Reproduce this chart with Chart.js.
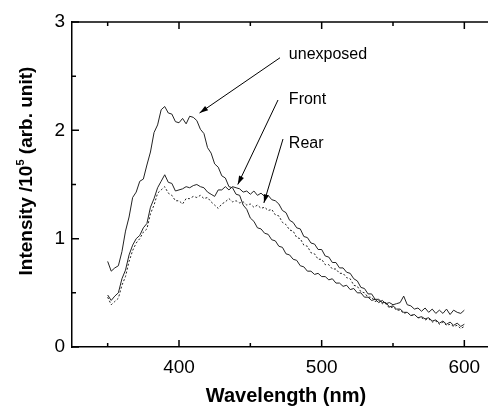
<!DOCTYPE html>
<html>
<head>
<meta charset="utf-8">
<script src="https://cdn.jsdelivr.net/npm/chart.js@4.4.1/dist/chart.umd.min.js"></script>
<style>
  html, body { margin: 0; padding: 0; overflow: hidden; background: #fff; }
  #wrap { width: 500px; height: 408px; }
</style>
</head>
<body>
<div id="wrap"><canvas id="chart"></canvas></div>
<script>
const wavelengths = [350,352.5,355,357.5,360,362.5,365,367.5,370,372.5,375,377.5,380,382.5,385,387.5,390,392.5,395,397.5,400,402.5,405,407.5,410,412.5,415,417.5,420,422.5,425,427.5,430,432.5,435,437.5,440,442.5,445,447.5,450,452.5,455,457.5,460,462.5,465,467.5,470,472.5,475,477.5,480,482.5,485,487.5,490,492.5,495,497.5,500,502.5,505,507.5,510,512.5,515,517.5,520,522.5,525,527.5,530,532.5,535,537.5,540,542.5,545,547.5,550,552.5,555,557.5,560,562.5,565,567.5,570,572.5,575,577.5,580,582.5,585,587.5,590,592.5,595,597.5,600];

const unexposed = [
  0.79,0.70,0.73,0.75,0.88,1.07,1.20,1.38,1.43,1.53,
  1.55,1.68,1.80,1.98,2.05,2.19,2.22,2.16,2.15,2.08,
  2.07,2.11,2.06,2.13,2.12,2.09,2.01,1.97,1.84,1.79,
  1.69,1.66,1.58,1.56,1.48,1.47,1.41,1.40,1.31,1.27,
  1.19,1.16,1.10,1.09,1.05,1.04,0.99,0.98,0.93,0.92,
  0.86,0.85,0.81,0.80,0.75,0.74,0.70,0.70,0.67,0.68,
  0.65,0.65,0.62,0.63,0.59,0.59,0.56,0.57,0.53,0.54,
  0.50,0.50,0.46,0.46,0.43,0.44,0.41,0.43,0.40,0.41,
  0.39,0.40,0.41,0.47,0.39,0.38,0.35,0.36,0.33,0.36,
  0.32,0.35,0.31,0.34,0.31,0.35,0.30,0.34,0.32,0.31,
  0.34];

const front = [
  0.48,0.43,0.47,0.50,0.63,0.71,0.85,0.94,1.00,1.03,
  1.10,1.14,1.29,1.37,1.47,1.53,1.59,1.52,1.51,1.44,
  1.45,1.46,1.48,1.47,1.49,1.50,1.48,1.47,1.43,1.41,
  1.39,1.45,1.45,1.48,1.45,1.48,1.47,1.46,1.43,1.44,
  1.41,1.44,1.40,1.42,1.39,1.40,1.36,1.35,1.32,1.26,
  1.24,1.17,1.15,1.10,1.09,1.02,1.01,0.96,0.95,0.90,
  0.90,0.84,0.83,0.78,0.78,0.73,0.73,0.69,0.68,0.63,
  0.61,0.55,0.54,0.49,0.49,0.44,0.44,0.41,0.41,0.37,
  0.38,0.35,0.35,0.32,0.32,0.29,0.30,0.27,0.28,0.26,
  0.27,0.24,0.25,0.22,0.24,0.21,0.23,0.20,0.22,0.19,
  0.21];

const rear = [
  0.46,0.39,0.42,0.45,0.57,0.65,0.79,0.89,0.96,1.00,
  1.06,1.09,1.23,1.31,1.42,1.45,1.48,1.42,1.40,1.35,
  1.35,1.32,1.37,1.37,1.39,1.38,1.40,1.37,1.38,1.34,
  1.31,1.28,1.32,1.34,1.37,1.34,1.35,1.33,1.34,1.31,
  1.32,1.29,1.31,1.28,1.29,1.26,1.27,1.22,1.21,1.15,
  1.13,1.08,1.07,1.01,1.00,0.94,0.93,0.87,0.86,0.81,
  0.81,0.76,0.76,0.72,0.72,0.68,0.68,0.64,0.63,0.57,
  0.56,0.51,0.50,0.46,0.46,0.42,0.43,0.40,0.40,0.36,
  0.37,0.34,0.34,0.31,0.32,0.29,0.30,0.27,0.27,0.25,
  0.26,0.23,0.24,0.21,0.23,0.20,0.21,0.19,0.20,0.17,
  0.19];

// tick positions; only the majors get a label
const xTicks = [350, 400, 450, 500, 550, 600];
const xLabels = ["", "400", "", "500", "", "600"];
const yTicks = [0, 0.5, 1, 1.5, 2, 2.5, 3];
const yLabels = ["0", "", "1", "", "2", "", "3"];

// label text, then arrow tail and tip, in data units
const notes = [
  { text: "unexposed", at: [477, 2.70], from: [470.8, 2.67], to: [414.4, 2.16] },
  { text: "Front", at: [477, 2.28], from: [469.4, 2.28], to: [441.2, 1.50] },
  { text: "Rear", at: [477, 1.88], from: [472.9, 1.92], to: [459.5, 1.33] }
];

const ink = "#222";
const fontFam = "'Liberation Sans', Arial, sans-serif";
const toPoints = (ys) => ys.map((y, i) => ({ x: wavelengths[i], y: y }));

// ticks point inward on all sides, plus top frame, notes and the y title
const frame = {
  id: "frame",
  afterDraw(chart) {
    const ctx = chart.ctx;
    const a = chart.chartArea;
    const xs = chart.scales.x;
    const ys = chart.scales.y;
    ctx.save();
    ctx.strokeStyle = "#000";
    ctx.lineWidth = 1.5;
    ctx.beginPath();
    ctx.moveTo(a.left, a.top);
    ctx.lineTo(a.right, a.top);
    ctx.stroke();
    ctx.beginPath();
    xTicks.forEach((v, i) => {
      const len = xLabels[i] ? 7 : 4;
      const px = xs.getPixelForValue(v);
      ctx.moveTo(px, a.bottom);
      ctx.lineTo(px, a.bottom - len);
      ctx.moveTo(px, a.top);
      ctx.lineTo(px, a.top + len);
    });
    yTicks.forEach((v, i) => {
      const len = yLabels[i] ? 7 : 4;
      const py = ys.getPixelForValue(v);
      ctx.moveTo(a.left, py);
      ctx.lineTo(a.left + len, py);
    });
    ctx.stroke();

    // notes with arrows
    ctx.fillStyle = "#000";
    ctx.font = "16px " + fontFam;
    ctx.textBaseline = "middle";
    ctx.textAlign = "left";
    ctx.lineWidth = 1;
    notes.forEach((n) => {
      ctx.fillText(n.text, xs.getPixelForValue(n.at[0]), ys.getPixelForValue(n.at[1]));
      const x1 = xs.getPixelForValue(n.from[0]), y1 = ys.getPixelForValue(n.from[1]);
      const x2 = xs.getPixelForValue(n.to[0]), y2 = ys.getPixelForValue(n.to[1]);
      ctx.beginPath();
      ctx.moveTo(x1, y1);
      ctx.lineTo(x2, y2);
      ctx.stroke();
      const ang = Math.atan2(y2 - y1, x2 - x1);
      ctx.beginPath();
      ctx.moveTo(x2, y2);
      ctx.lineTo(x2 - 9 * Math.cos(ang - 0.3), y2 - 9 * Math.sin(ang - 0.3));
      ctx.lineTo(x2 - 9 * Math.cos(ang + 0.3), y2 - 9 * Math.sin(ang + 0.3));
      ctx.closePath();
      ctx.fill();
    });

    // y title with superscript
    ctx.translate(27, 171);
    ctx.rotate(-Math.PI / 2);
    const big = "bold 19px " + fontFam;
    const small = "bold 11px " + fontFam;
    const p1 = "Intensity /10", p3 = " (arb. unit)";
    ctx.font = big;
    const w1 = ctx.measureText(p1).width, w3 = ctx.measureText(p3).width;
    ctx.font = small;
    const w2 = ctx.measureText("5").width;
    let x = -(w1 + w2 + w3) / 2;
    ctx.font = big;
    ctx.fillText(p1, x, 0);
    ctx.font = small;
    ctx.fillText("5", x + w1, -6);
    ctx.font = big;
    ctx.fillText(p3, x + w1 + w2, 0);
    ctx.restore();
  }
};

new Chart(document.getElementById("chart"), {
  type: "scatter",
  data: {
    datasets: [
      { label: "unexposed", data: toPoints(unexposed), showLine: true, borderColor: ink, borderWidth: 1, pointRadius: 0, tension: 0 },
      { label: "Front", data: toPoints(front), showLine: true, borderColor: ink, borderWidth: 1, pointRadius: 0, tension: 0 },
      { label: "Rear", data: toPoints(rear), showLine: true, borderColor: ink, borderWidth: 1, borderDash: [2, 2], pointRadius: 0, tension: 0 }
    ]
  },
  options: {
    responsive: true,
    maintainAspectRatio: false,
    animation: false,
    layout: { padding: { top: 22, left: 0, right: 0, bottom: 0 } },
    plugins: { legend: { display: false }, tooltip: { enabled: false } },
    scales: {
      x: {
        type: "linear",
        min: 325,
        max: 625,
        grid: { display: false, drawTicks: false },
        border: { display: true, color: "#000", width: 1.5 },
        afterBuildTicks: (s) => { s.ticks = xTicks.map((v) => ({ value: v })); },
        ticks: {
          padding: 9,
          color: "#000",
          font: { family: fontFam, size: 19 },
          maxRotation: 0,
          autoSkip: false,
          callback: (v, i) => xLabels[i]
        },
        title: {
          display: true,
          text: "Wavelength (nm)",
          color: "#000",
          font: { family: fontFam, size: 20, weight: "bold" },
          padding: { top: 0, bottom: 0 }
        },
        afterFit: (s) => { s.height = 61; }
      },
      y: {
        min: 0,
        max: 3,
        grid: { display: false, drawTicks: false },
        border: { display: true, color: "#000", width: 1.5 },
        afterBuildTicks: (s) => { s.ticks = yTicks.map((v) => ({ value: v })); },
        ticks: {
          padding: 7,
          color: "#000",
          font: { family: fontFam, size: 19 },
          autoSkip: false,
          callback: (v, i) => yLabels[i]
        },
        afterFit: (s) => { s.width = 72; }
      }
    }
  },
  plugins: [frame]
});
</script>
</body>
</html>
